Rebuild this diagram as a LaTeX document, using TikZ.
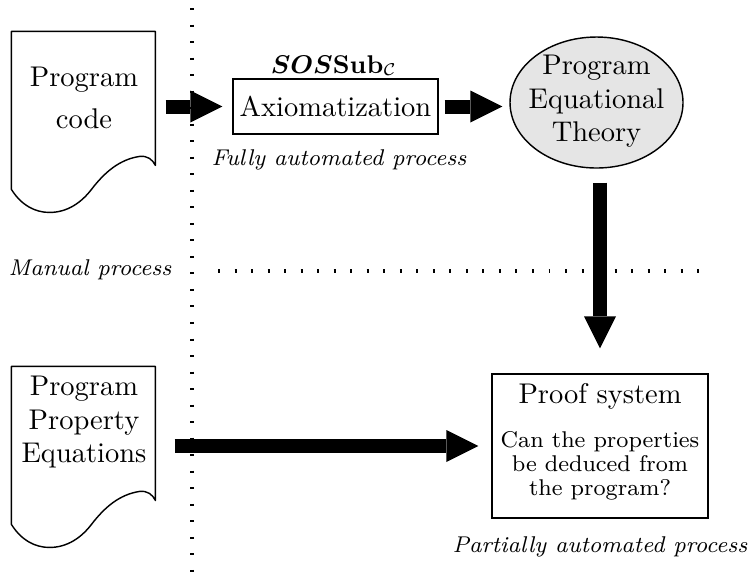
\documentclass[tikz,border=0pt]{standalone}
\usepackage{amsmath}
\usetikzlibrary{arrows.meta,shapes.geometric}
\begin{document}
\begin{tikzpicture}[x=0.351pt, y=-0.351pt,
  lbl/.style={inner sep=0pt, anchor=base},
  tag/.style={lbl, font=\footnotesize\itshape},
  boxframe/.style={draw, line width=0.5pt, inner sep=0pt},
  docframe/.style={inner sep=0pt, minimum width=50.54pt, minimum height=47.03pt},
  docline/.style={line width=0.5pt, line join=round},
  flow/.style={line width=4.91pt,
    -{Triangle[length=11.23pt, width=11.23pt, line width=0pt]}},
  divider/.style={line width=1.4pt, dash pattern=on 0.7pt off 5.1pt}
]
\useasboundingbox (0,0) rectangle (750,586);

% dotted separators between manual and automated parts
\coordinate (vtop) at (192,8);
\coordinate (vbot) at (192,584);
\coordinate (hleft) at (218,271);
\coordinate (hright) at (704,271);
\draw[divider] (vtop) -- (vbot);
\draw[divider] (hleft) -- (hright);

% document shapes
\node[docframe] (codedoc) at (84,99) {};
\node[docframe] (propdoc) at (84,434) {};
\foreach \d in {codedoc, propdoc} {
  \begin{scope}[shift={(\d.north west)}]
    \draw[docline] (0,0) -- (144,0) -- (144,134)
      .. controls (141,128) and (136,124) .. (128,125)
      .. controls (108,128) and (93,141) .. (80,158)
      .. controls (70,171) and (56,181) .. (38,181)
      .. controls (24,181) and (10,174) .. (0,158) -- cycle;
  \end{scope}
}
\node[lbl] (code1) at (84,86) {Program};
\node[lbl] (code2) at (84,128) {code};
\node[lbl] (prop1) at (84,395) {Program};
\node[lbl] (prop2) at (84,429) {Property};
\node[lbl] (prop3) at (84,462) {Equations};

% axiomatization step
\node[boxframe, minimum width=71.96pt, minimum height=19.31pt] (axiom) at (335.5,106.5) {};
\node[lbl] (axiomtxt) at (335.5,116) {Axiomatization};
\node[lbl, font=\small] (sos) at (334,73)
  {$\boldsymbol{SOS}\mathbf{Sub}_{\mathcal{C}}$};
\node[tag] (fully) at (339,165) {Fully automated process};

% equational theory
\node[draw, line width=0.5pt, ellipse, fill=black!10, inner sep=0pt,
  minimum width=60.72pt, minimum height=45.98pt] (eq) at (596.5,102.5) {};
\node[lbl] (eq1) at (596.5,74) {Program};
\node[lbl] (eq2) at (596.5,108) {Equational};
\node[lbl] (eq3) at (596.5,141) {Theory};

% proof system
\node[boxframe, minimum width=75.82pt, minimum height=50.54pt] (proof) at (600,446) {};
\node[lbl] (prooftitle) at (600,403) {Proof system};
\node[lbl, font=\footnotesize] (q1) at (600,447) {Can the properties};
\node[lbl, font=\footnotesize] (q2) at (600,471) {be deduced from};
\node[lbl, font=\footnotesize] (q3) at (600,495) {the program?};
\node[tag] (partial) at (600,552) {Partially automated process};

\node[tag] (manual) at (90,275) {Manual process};

% flow arrows
\draw[flow, shorten <=3.16pt, shorten >=3.51pt] (codedoc.east |- axiom.west) -- (axiom.west);
\draw[flow, shorten <=2.11pt, shorten >=2.46pt] (axiom.east) -- (axiom.east -| eq.west);
\draw[flow, shorten <=4.91pt, shorten >=8.78pt] (eq.south -| proof.north) -- (proof.north);
\draw[flow, shorten <=6.32pt, shorten >=4.56pt] (propdoc.east |- proof.west) -- (proof.west);
\end{tikzpicture}
\end{document}
